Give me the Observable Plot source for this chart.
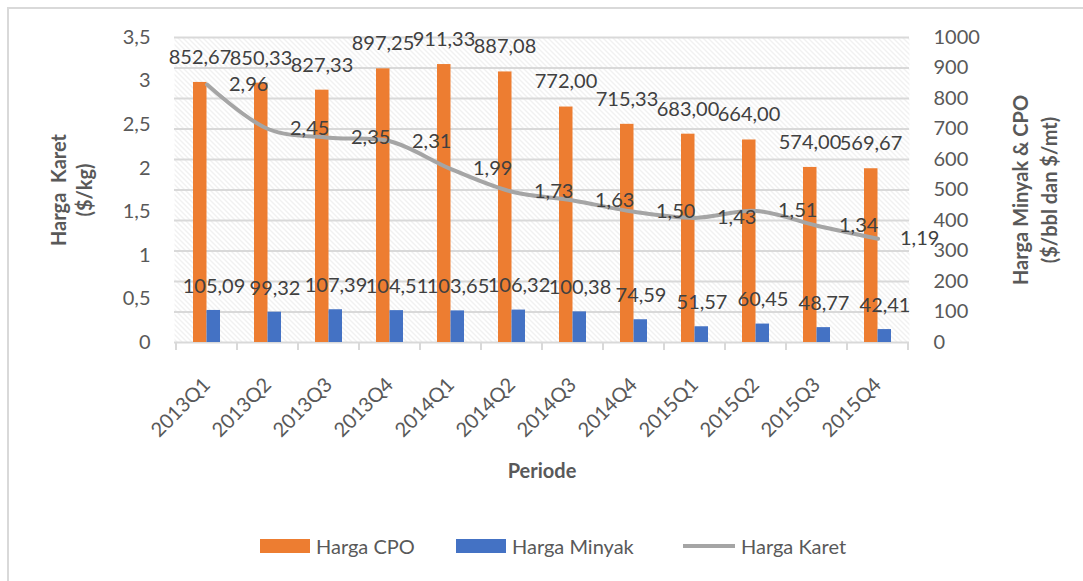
<!DOCTYPE html>
<html>
<head>
<meta charset="utf-8">
<script src="https://cdn.jsdelivr.net/npm/d3@7"></script>
<script src="https://cdn.jsdelivr.net/npm/@observablehq/plot@0.6"></script>
<style>
  html, body { margin: 0; padding: 0; background: #fff; overflow: hidden; }
  #wrap { position: relative; width: 1083px; height: 581px; font-family: Lato, "Noto Sans", sans-serif; }
  #border { position: absolute; left: 7px; top: 7px; width: 1200px; height: 700px; border: 2.5px solid #D9D9D9; box-sizing: border-box; }
  #chart { position: absolute; left: 0; top: 0; }
  .leg { position: absolute; top: 535px; height: 22px; display: flex; align-items: center; font-size: 20px; color: #595959; }
  .sw { display: inline-block; width: 50px; height: 14px; margin-right: 6px; }
  .ln { display: inline-block; width: 52px; height: 4px; margin-right: 6px; background: #A5A5A5; }
</style>
</head>
<body>
<div id="wrap">
  <div id="border"></div>
  <div id="chart"></div>
  <div class="leg" style="left:260px"><span class="sw" style="background:#ED7D31"></span>Harga CPO</div>
  <div class="leg" style="left:456px"><span class="sw" style="background:#4472C4"></span>Harga Minyak</div>
  <div class="leg" style="left:683px"><span class="ln"></span>Harga Karet</div>
</div>
<script>
// ---- data ----
const periods = ["2013Q1","2013Q2","2013Q3","2013Q4","2014Q1","2014Q2","2014Q3","2014Q4","2015Q1","2015Q2","2015Q3","2015Q4"];
const hargaCPO = [852.67, 850.33, 827.33, 897.25, 911.33, 887.08, 772.00, 715.33, 683.00, 664.00, 574.00, 569.67];
const hargaMinyak = [105.09, 99.32, 107.39, 104.51, 103.65, 106.32, 100.38, 74.59, 51.57, 60.45, 48.77, 42.41];
const hargaKaret = [2.96, 2.45, 2.35, 2.31, 1.99, 1.73, 1.63, 1.50, 1.43, 1.51, 1.34, 1.19];
const leftTicks = [0, 0.5, 1, 1.5, 2, 2.5, 3, 3.5];
const rightTicks = [0, 100, 200, 300, 400, 500, 600, 700, 800, 900, 1000];
const leftMax = 3.5, rightMax = 1000;

const K = rightMax / leftMax; // left-axis value -> shared y scale
const rows = periods.map((p, i) => ({period: p, cpo: hargaCPO[i], minyak: hargaMinyak[i], karet: hargaKaret[i]}));
const fmt2 = v => v.toFixed(2).replace(".", ",");
const fmtL = d => String(Math.round(d / K * 10) / 10).replace(".", ",");

const TXT = "#595959", LBL = "#404040", GRID = "#D9D9D9";

function boundaryTicks(index, scales, values, dims) {
  const x = scales.x;
  const n = periods.length;
  const step = x.step ? x.step() : (dims.width - dims.marginLeft - dims.marginRight) / n;
  const bw = x.bandwidth ? x.bandwidth() : 0;
  const y0 = dims.height - dims.marginBottom;
  const edges = periods.map(p => x(p) + bw / 2 - step / 2).concat([x(periods[n - 1]) + bw / 2 + step / 2]);
  const g = d3.create("svg:g").attr("stroke", GRID).attr("stroke-width", 2);
  g.selectAll("line").data(edges).join("line")
    .attr("x1", d => d).attr("x2", d => d).attr("y1", y0).attr("y2", y0 + 8);
  return g.node();
}

const chart = Plot.plot({
  width: 1083,
  height: 581,
  marginTop: 37,
  marginBottom: 239,
  marginLeft: 174,
  marginRight: 174,
  style: {fontFamily: "Lato, 'Noto Sans', sans-serif", fontSize: "20px", background: "transparent", overflow: "visible"},
  x: {type: "band", domain: periods, paddingInner: 0.56, paddingOuter: 0.28, label: null},
  y: {domain: [0, rightMax], label: null},
  marks: [
    Plot.frame({fill: "url(#hatch)", stroke: null}),
    Plot.gridY(rightTicks, {stroke: GRID, strokeOpacity: 1, strokeWidth: 2}),
    boundaryTicks,
    Plot.barY(rows, {x: "period", y: "cpo", fill: "#ED7D31", insetRight: 13.5, insetLeft: 0}),
    Plot.barY(rows, {x: "period", y: "minyak", fill: "#4472C4", insetLeft: 13.5, insetRight: 0}),
    Plot.lineY(rows, {x: "period", y: d => d.karet * K, stroke: "#A5A5A5", strokeWidth: 4, curve: "catmull-rom"}),
    Plot.axisY(leftTicks.map(t => t * K), {anchor: "left", tickSize: 0, tickPadding: 24, tickFormat: fmtL, fill: TXT, label: null, fontSize: 20}),
    Plot.axisY(rightTicks, {anchor: "right", tickSize: 0, tickPadding: 24, tickFormat: d => String(d), fill: TXT, label: null, fontSize: 20}),
    Plot.axisX({tickRotate: -45, tickSize: 0, tickPadding: 39, fill: TXT, label: null, fontSize: 20}),
    Plot.text(rows, {x: "period", y: "cpo", text: d => fmt2(d.cpo), dx: -7, dy: -25, fill: LBL, fontSize: 20}),
    Plot.text(rows, {x: "period", y: "minyak", text: d => fmt2(d.minyak), dx: 7, dy: -24, fill: LBL, fontSize: 20}),
    Plot.text(rows, {x: "period", y: d => d.karet * K, text: d => fmt2(d.karet), dx: 22, textAnchor: "start", fill: LBL, fontSize: 20}),
    Plot.text(["Harga  Karet\n($/kg)"], {frameAnchor: "left", textAnchor: "middle", dx: -104, rotate: -90, text: d => d, fill: TXT, fontWeight: "bold", fontSize: 20, lineHeight: 1.3}),
    Plot.text(["Harga Minyak & CPO\n($/bbl dan $/mt)"], {frameAnchor: "right", textAnchor: "middle", dx: 124, rotate: -90, text: d => d, fill: TXT, fontWeight: "bold", fontSize: 20, lineHeight: 1.45}),
    Plot.text(["Periode"], {frameAnchor: "bottom", dy: 135, text: d => d, fill: TXT, fontWeight: "bold", fontSize: 20})
  ]
});

const svg = d3.select(chart);
const defs = svg.insert("defs", ":first-child");
const pat = defs.append("pattern").attr("id", "hatch").attr("patternUnits", "userSpaceOnUse")
  .attr("width", 5).attr("height", 5);
pat.append("rect").attr("width", 5).attr("height", 5).attr("fill", "#fff");
pat.append("path").attr("d", "M-1,-1 L6,6 M-1,4 L1,6 M4,-1 L6,1").attr("stroke", "#E2E2E2").attr("stroke-width", 1);

document.getElementById("chart").appendChild(chart);
</script>
</body>
</html>
